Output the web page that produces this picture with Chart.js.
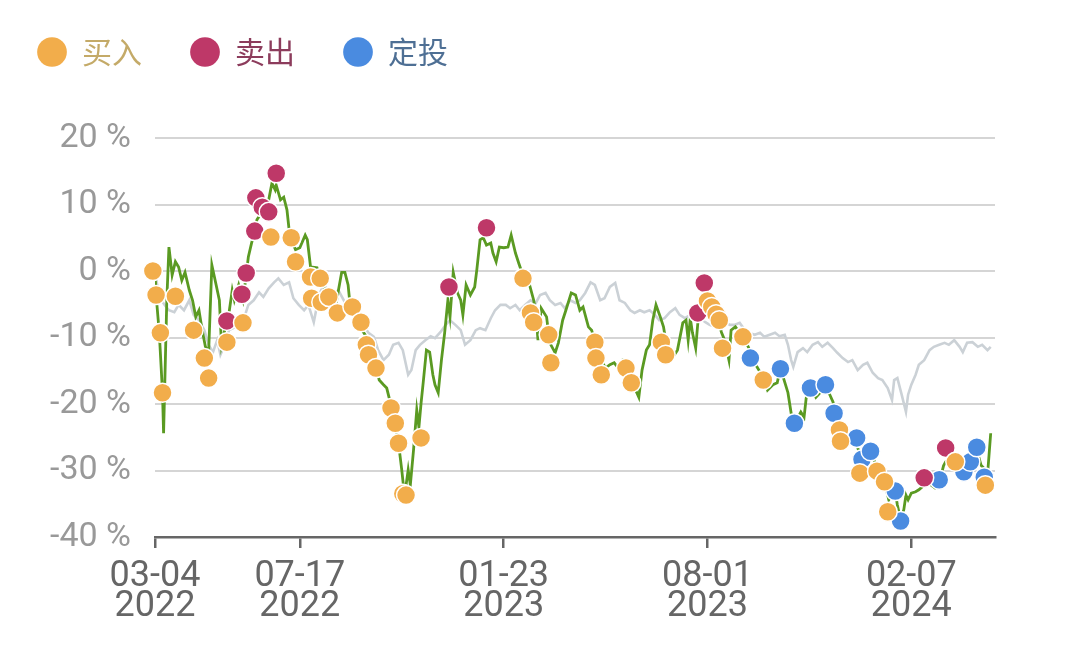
<!DOCTYPE html>
<html>
<head>
<meta charset="utf-8">
<script src="https://cdn.jsdelivr.net/npm/chart.js@4"></script>
<style>
  html, body { margin: 0; padding: 0; background: #fff; }
  canvas { display: block; }
</style>
</head>
<body>
<canvas id="chart" width="1080" height="657"></canvas>
<script>
// days counted from 2022-03-04, values in %
const tickDays = [0, 135, 325, 515, 705];
const tickDates = ['03-04', '07-17', '01-23', '08-01', '02-07'];
const tickYears = ['2022', '2022', '2023', '2023', '2024'];

const strategyDays = [
  0, 1, 4, 7, 8, 11, 13, 16, 19, 22,
  25, 28, 32, 35, 38, 41, 44, 47, 50, 53,
  57, 60, 62, 65, 68, 72, 74, 78, 82, 85,
  87, 90, 93, 95, 99, 103, 106, 109, 112, 113,
  117, 120, 123, 125, 127, 131, 135, 140, 142, 145,
  151, 154, 158, 163, 167, 171, 174, 177, 180, 182,
  186, 190, 193, 196, 201, 206, 209, 213, 216, 220,
  223, 227, 230, 232, 233, 236, 238, 241, 244, 246,
  248, 250, 253, 256, 259, 261, 264, 267, 270, 273,
  275, 278, 282, 285, 287, 290, 294, 298, 300, 303,
  306, 309, 313, 315, 318, 321, 325, 329, 332, 336,
  339, 342, 348, 353, 355, 357, 360, 365, 368, 373,
  376, 380, 383, 388, 392, 396, 399, 404, 407, 411,
  416, 420, 424, 428, 432, 436, 441, 445, 448, 451,
  454, 458, 461, 464, 467, 471, 474, 478, 483, 487,
  492, 495, 497, 499, 501, 504, 506, 509, 513, 516,
  521, 525, 528, 531, 535, 537, 541, 545, 548, 553,
  557, 560, 564, 568, 571, 576, 580, 583, 587, 590,
  593, 596, 599, 602, 605, 607, 611, 616, 620, 625,
  629, 632, 634, 636, 639, 643, 647, 653, 657, 660,
  664, 668, 672, 676, 680, 684, 687, 690, 692, 695,
  698, 700, 702, 705, 709, 712, 717, 721, 727, 731,
  735, 737, 741, 746, 750, 754, 759, 763, 766, 770,
  774, 776, 779
];
const strategyValues = [
  0, -3.6, -9.3, -18.3, -24.4, -4.4, 3.6, -0.6, 1.4, 0.6,
  -1.4, -0.2, -2.9, -4.4, -6.9, -5.9, -8.9, -11.4, -12.2, 0.9,
  -2.1, -4.4, -11.1, -8.9, -7.4, -2.9, -4.4, -2.1, -4.4, -0.6,
  2.1, 4.2, 5.9, 7.7, 8.7, 8.1, 10.7, 13.2, 12.2, 12.9,
  10.7, 11.1, 9.2, 6.2, 4.7, 3.2, 3.5, 5.4, 4.7, 0.6,
  0.5, -1.4, -2.6, -4.4, -6.6, -2.9, -0.2, -0.2, -2.1, -5.4,
  -6.6, -7.8, -8.9, -9.6, -11.9, -14.4, -16.4, -17.1, -17.6, -20.2,
  -22.4, -25.9, -29.9, -32.9, -33.4, -29.9, -32.2, -26.9, -20.9, -23.5,
  -19.9, -16.8, -11.9, -12.2, -15.6, -17.1, -18.3, -13.4, -9.3, -4.4,
  -6.9, -0.2, -3.3, -4.4, -6.6, -2.1, -3.6, -2.4, 0.2, 4.7,
  5.0, 3.9, 4.2, 2.7, 1.4, 3.6, 3.5, 3.6, 5.4, 2.7,
  1.2, -0.2, -1.4, -4.4, -6.3, -10.4, -5.6, -6.9, -10.8, -12.3,
  -10.8, -7.4, -5.9, -3.3, -3.6, -5.9, -5.4, -8.4, -8.9, -11.1,
  -13.4, -14.6, -14.1, -13.8, -14.6, -13.4, -13.7, -15.6, -17.9, -19.0,
  -14.9, -11.9, -11.1, -7.4, -5.1, -6.9, -8.4, -12.3, -12.9, -11.9,
  -7.8, -7.4, -10.4, -7.1, -9.3, -11.6, -7.8, -5.9, -2.9, -4.4,
  -5.9, -7.4, -9.2, -10.4, -13.4, -8.9, -8.4, -9.3, -9.9, -11.4,
  -13.1, -14.1, -15.2, -16.4, -17.9, -17.1, -16.8, -14.6, -16.7, -18.3,
  -21.4, -22.9, -22.1, -21.2, -22.0, -19.1, -17.6, -19.0, -18.3, -17.1,
  -18.6, -19.7, -21.4, -23.2, -24.7, -25.4, -25.0, -25.4, -27.7, -29.2,
  -27.2, -26.9, -29.6, -31.1, -31.7, -34.4, -33.7, -33.2, -35.2, -37.4,
  -35.9, -33.7, -34.4, -33.4, -33.2, -32.9, -32.2, -31.9, -32.6, -31.9,
  -29.3, -28.7, -28.4, -28.7, -29.2, -29.9, -29.2, -27.7, -26.9, -29.2,
  -29.9, -30.7, -24.4
];

const benchDays = [
  0, 2, 6, 9, 13, 18, 22, 27, 32, 36,
  41, 46, 50, 54, 58, 61, 65, 69, 73, 78,
  83, 87, 92, 97, 101, 106, 111, 115, 120, 125,
  129, 134, 139, 143, 148, 153, 157, 162, 167, 171,
  176, 180, 185, 190, 194, 199, 204, 208, 213, 218,
  222, 227, 231, 236, 239, 243, 247, 252, 257, 261,
  266, 271, 275, 280, 285, 289, 294, 299, 303, 308,
  313, 317, 322, 327, 331, 336, 340, 345, 350, 355,
  359, 364, 368, 373, 378, 382, 387, 392, 396, 401,
  406, 410, 415, 419, 424, 429, 433, 438, 443, 447,
  452, 456, 461, 466, 470, 475, 480, 485, 489, 494,
  499, 503, 508, 513, 517, 522, 527, 531, 536, 540,
  545, 550, 554, 559, 564, 568, 573, 578, 582, 587,
  590, 593, 595, 599, 604, 608, 613, 618, 622, 627,
  632, 636, 641, 646, 650, 655, 660, 664, 669, 674,
  678, 683, 687, 689, 692, 696, 700, 702, 705, 709,
  712, 717, 722, 726, 731, 736, 740, 745, 750, 753,
  757, 762, 767, 771, 776, 779
];
const benchValues = [
  0, -2.1, -4.4, -5.1, -5.9, -6.2, -5.1, -5.9, -4.4, -6.6,
  -7.4, -8.9, -11.1, -12.2, -10.4, -12.6, -11.1, -8.9, -8.6, -8.1,
  -7.1, -5.1, -4.4, -3.2, -3.9, -2.6, -1.7, -1.1, -2.1, -1.7,
  -4.1, -5.1, -5.9, -5.1, -7.7, -3.6, -2.1, -2.9, -3.3, -2.9,
  -4.4, -5.9, -6.3, -6.6, -8.1, -9.3, -9.9, -11.9, -13.4, -12.6,
  -11.1, -10.8, -11.9, -15.6, -14.9, -11.9, -11.1, -10.4, -9.8, -10.1,
  -9.2, -8.1, -7.4, -8.1, -8.9, -11.1, -10.4, -8.9, -8.6, -8.9,
  -7.1, -5.9, -5.1, -5.1, -5.6, -5.1, -5.9, -5.1, -4.4, -4.8,
  -3.6, -3.3, -4.4, -5.1, -4.8, -5.6, -4.4, -4.8, -4.4, -3.3,
  -1.7, -2.1, -4.4, -4.1, -2.4, -1.8, -4.4, -4.8, -5.9, -6.3,
  -5.9, -6.2, -5.9, -6.6, -7.4, -7.1, -6.2, -5.6, -6.6, -7.1,
  -6.6, -7.4, -7.1, -7.7, -8.1, -8.4, -8.1, -7.7, -8.1, -8.1,
  -7.8, -8.9, -9.3, -9.6, -9.3, -9.9, -9.6, -9.3, -9.8, -9.6,
  -11.1, -13.4, -14.4, -12.2, -11.6, -12.2, -11.1, -10.7, -11.4, -10.8,
  -11.6, -12.3, -13.1, -13.7, -13.4, -14.9, -14.1, -13.8, -15.3, -16.1,
  -16.4, -17.6, -19.4, -16.4, -16.1, -18.6, -21.2, -18.6, -17.1, -15.6,
  -14.1, -13.4, -11.9, -11.4, -11.1, -10.8, -11.1, -10.4, -11.4, -12.2,
  -10.8, -10.7, -11.4, -11.1, -11.9, -11.4
];

// 买入
const buyDays = [
  -2, 1, 5, 7, 19, 36, 46, 50, 67, 82,
  108, 127, 131, 145, 154, 146, 155, 162, 170, 184,
  192, 197, 199, 206, 220, 224, 227, 231, 234, 248,
  343, 350, 353, 367, 369, 410, 411, 416, 439, 444,
  472, 476, 515, 519, 523, 526, 529, 548, 567, 638,
  639, 657, 673, 680, 683, 746, 774
];
const buyValues = [
  0, -3.6, -9.3, -18.3, -3.8, -8.9, -13.1, -16.1, -10.7, -7.8,
  5.1, 5.0, 1.4, -0.9, -1.1, -4.1, -4.7, -3.9, -6.3, -5.4,
  -7.7, -11.1, -12.6, -14.6, -20.6, -22.9, -25.9, -33.5, -33.7, -25.1,
  -1.1, -6.3, -7.7, -9.6, -13.8, -10.7, -13.1, -15.6, -14.6, -16.8,
  -10.7, -12.6, -4.5, -5.4, -6.5, -7.4, -11.6, -9.9, -16.4, -23.9,
  -25.6, -30.4, -30.1, -31.7, -36.2, -28.7, -32.2
];
// 卖出
const sellDays = [67, 81, 85, 93, 94, 100, 106, 113, 274, 309, 506, 512, 717, 737];
const sellValues = [-7.5, -3.5, -0.3, 6.0, 11.0, 9.6, 8.9, 14.7, -2.4, 6.5, -6.3, -1.8, -31.1, -26.6];
// 定投
const autoDays = [555, 583, 596, 611, 625, 633, 654, 659, 667, 690, 695, 731, 754, 760, 766, 773];
const autoValues = [-13.1, -14.7, -22.9, -17.6, -17.1, -21.4, -25.1, -28.3, -27.1, -33.1, -37.6, -31.4, -30.2, -28.7, -26.5, -31.0];

const legendTextColors = ['#c4aa68', '#8c3c5c', '#4e6f94'];

function toPoints(days, values) {
  return days.map((d, i) => ({ x: d, y: values[i] }));
}

function dots(label, days, values, color) {
  return {
    type: 'scatter',
    label: label,
    data: toPoints(days, values),
    backgroundColor: color,
    borderColor: '#ffffff',
    borderWidth: 1.5,
    pointRadius: 9.5,
    pointHoverRadius: 9.5,
    clip: false
  };
}

// legend takes the whole band above the plot, then nudged to the corner
const legendPlacement = {
  id: 'legendPlacement',
  beforeInit(chart) {
    const fit = chart.legend.fit;
    chart.legend.fit = function () {
      fit.call(this);
      this.height = 138;
    };
  },
  afterLayout(chart) {
    chart.legend.left -= 11;
    chart.legend.top -= 11;
  }
};

Chart.defaults.font.family = 'Roboto, sans-serif';

const ctx = document.getElementById('chart').getContext('2d');
new Chart(ctx, {
  type: 'line',
  data: {
    datasets: [
      dots('买入', buyDays, buyValues, '#f2ad4b'),
      dots('卖出', sellDays, sellValues, '#be3868'),
      dots('定投', autoDays, autoValues, '#4a8be0'),
      {
        label: 'strategy',
        data: toPoints(strategyDays, strategyValues),
        borderColor: '#5a9a22',
        borderWidth: 2.8,
        pointRadius: 0,
        tension: 0,
        fill: false
      },
      {
        label: 'bench',
        data: toPoints(benchDays, benchValues),
        borderColor: '#cbd1d6',
        borderWidth: 2.6,
        pointRadius: 0,
        tension: 0,
        fill: false
      }
    ]
  },
  options: {
    responsive: false,
    animation: false,
    devicePixelRatio: 1,
    layout: { padding: { left: 0, right: 85, top: 0, bottom: 0 } },
    plugins: {
      tooltip: { enabled: false },
      legend: {
        align: 'start',
        labels: {
          usePointStyle: true,
          pointStyle: 'circle',
          boxHeight: 21,
          padding: 48,
          font: { family: '"Noto Sans CJK SC", sans-serif', size: 30 },
          filter: (item) => item.datasetIndex < 3,
          generateLabels(chart) {
            const items = Chart.defaults.plugins.legend.labels.generateLabels(chart);
            items.forEach((it) => {
              it.fontColor = legendTextColors[it.datasetIndex];
              it.lineWidth = 0;
            });
            return items;
          }
        }
      }
    },
    scales: {
      x: {
        type: 'linear',
        min: 0,
        max: 783,
        afterBuildTicks: (axis) => {
          axis.ticks = tickDays.map((v) => ({ value: v }));
        },
        afterFit: (axis) => { axis.height = 120; },
        ticks: {
          autoSkip: false,
          maxRotation: 0,
          padding: 14,
          color: '#666666',
          font: { size: 36, lineHeight: 0.84 },
          callback: (v, i) => [tickDates[i], tickYears[i]]
        },
        grid: { drawOnChartArea: false, drawTicks: true, tickLength: 11, color: '#666666', lineWidth: 2.5 },
        border: { display: true, color: '#666666', width: 2.5 }
      },
      y: {
        min: -40,
        max: 20,
        afterFit: (axis) => { axis.width = 155; },
        ticks: {
          stepSize: 10,
          padding: 24,
          color: '#999999',
          font: { size: 34 },
          callback: (v) => v + ' %'
        },
        grid: { color: '#d5d5d5', lineWidth: 2, drawTicks: false },
        border: { display: false }
      }
    }
  },
  plugins: [legendPlacement]
});
</script>
</body>
</html>
